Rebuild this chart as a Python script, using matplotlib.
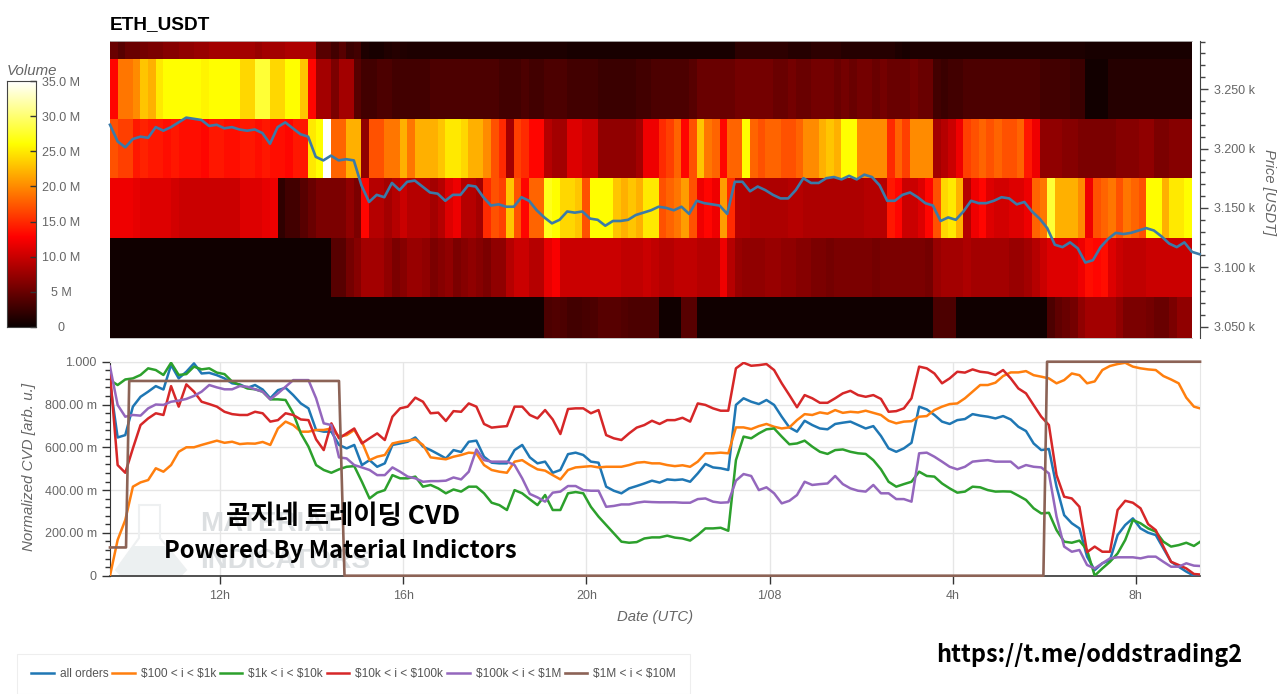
# ETH_USDT order book heatmap with normalized CVD panel
import numpy as np
import matplotlib
matplotlib.use("Agg")
import matplotlib.pyplot as plt
from matplotlib.patches import Polygon
from matplotlib.ticker import FixedLocator, MultipleLocator

W, H = 1280, 694
T0 = 9.6  # chart starts at 09:36 UTC, one sample every 10 min
GREY = "#666666"
CJK = ["Noto Sans CJK KR", "DejaVu Sans"]
plt.rcParams["font.family"] = ["Liberation Sans", "DejaVu Sans"]

TITLE = "ETH_USDT"
PRICE_EDGES = [3040.5, 3075, 3125, 3175, 3225, 3275, 3290.5]

# volume per price bin in millions, 10 min columns
VOL_3040 = [
    .3, .3, .3, .3, .3, .3, .3, .3, .3, .3,
    .3, .3, .3, .3, .3, .3, .3, .3, .3, .3,
    .3, .3, .3, .3, .3, .3, .3, .3, .3, .3,
    .3, .3, .3, .3, .3, .3, .3, .3, .3, .3,
    .3, .3, .3, .3, .3, .3, .3, .3, .3, .3,
    .3, .3, .3, .3, .3, .3, .3, 3.5, 3.8, 3.5,
    3, 3, 3.2, 3.5, 4, 4, 4, 3.8, 3.5, 3.5,
    3.5, 3.5, .3, .3, .3, 4, 4, .4, .4, .4,
    .4, .4, .4, .4, .4, .4, .4, .4, .4, .4,
    .4, .4, .4, .4, .4, .4, .4, .4, .4, .4,
    .4, .4, .4, .4, .4, .4, .4, .4, 3.5, 3.5,
    3.5, .4, .4, .4, .4, .4, .4, .4, .4, .4,
    .4, .4, .4, 3.5, 4.5, 5, 5.5, 7, 8, 8,
    8, 8, 7, 6, 6, 6, 5.5, 5, 5, 6, 7, 7,
]
VOL_3100 = [
    .3, .3, .3, .3, .3, .3, .3, .3, .3, .3,
    .3, .3, .3, .3, .3, .3, .3, .3, .3, .3,
    .3, .3, .3, .3, .3, .3, .3, .3, .3, 4,
    4, 5.5, 6.5, 8, 8, 8, 7, 6, 6.5, 7.5,
    7.5, 7, 6, 6.5, 7, 6, 6.5, 7, 6.5, 6,
    7, 7, 9, 10, 10, 9, 9, 11.5, 12.5, 10,
    10, 10, 10, 10, 10, 10, 10, 9.5, 9.5, 9.5,
    10, 9.5, 9, 9, 9.5, 9.5, 9.5, 9, 9, 9,
    12, 9, 7.5, 7, 7, 7, 7.5, 7.5, 7, 7,
    6.5, 6.5, 6, 6, 5.5, 6, 6, 6, 6, 6,
    5.5, 6, 6, 6, 6, 6, 6, 5.5, 7.5, 8,
    8, 8, 8.5, 8, 8, 8, 8, 8, 7.5, 7.5,
    8, 9, 10, 11, 11, 11, 11, 12, 13.5, 13,
    13.5, 11, 10, 9.5, 9.5, 9.5, 10, 10, 10, 10, 10, 10,
]
VOL_3150 = [
    12, 12, 12, 11.5, 11, 11, 11, 11, 10.5, 10,
    10, 10, 10, 10, 10, 10, 10, 11, 11, 11,
    11.5, 12, 2, 3, 3, 4, 5, 6, 6, 6,
    6, 7, 6, 13, 9, 9, 8, 9, 10, 9,
    9, 9, 8, 9, 11, 12, 9, 9, 8, 15,
    17, 16, 23, 17, 13, 18, 18, 27, 26, 24,
    24, 23, 17, 26, 26, 26, 23, 22, 23, 22,
    25, 25, 17, 18, 19, 21, 17, 12, 13, 12,
    21, 15, 9, 9, 8.5, 8.5, 8.5, 8.5, 8.5, 9,
    9, 8.5, 8.5, 8.5, 8.5, 8.5, 8.5, 8.5, 8.5, 9,
    9, 9, 14, 13, 10, 10, 11, 13, 17, 24,
    25, 22, 9, 12, 13, 11, 10.5, 10.5, 11, 11,
    12, 18, 19, 28, 22, 22, 22, 20, 12, 17,
    18, 19, 17, 19, 18, 17, 26, 26, 22, 25, 25, 26,
]
VOL_3200 = [
    17, 16, 16, 14, 14.5, 14, 14, 13.5, 14, 13.5,
    13.5, 13.5, 13, 14, 14, 13.5, 13.5, 14, 14, 13.5,
    14, 13.5, 13.5, 13, 14, 14, 25, 26, 35, 18,
    18, 22, 22, 7, 17, 17, 19, 19, 22, 19,
    22, 22, 22, 23, 25, 25, 24, 22, 22, 20,
    17, 15, 8, 16, 15, 13, 13, 9, 8, 8,
    11, 11, 10, 10, 7, 7, 7, 7, 7, 8,
    12, 12, 15, 16, 18, 13, 17, 23, 19, 18,
    13, 18, 18, 26, 18, 17, 18, 18, 17, 17,
    18, 20, 20, 22, 23, 22, 26, 26, 20, 20,
    20, 20, 15, 18, 16, 20, 20, 20, 8, 9,
    10, 12, 16, 17, 18, 17, 18, 17, 17, 18,
    14, 12, 7, 7, 7, 6.5, 6.5, 6, 6, 6,
    6, 6, 6.5, 6.5, 6.5, 7, 7, 6, 6, 6.5, 6.5, 6.5,
]
VOL_3250 = [
    13, 19, 19, 20, 23, 22, 25, 26, 26, 26,
    26, 26, 25.5, 26, 26, 26, 26, 24, 24, 28,
    28, 24, 24, 26, 26, 23, 13, 8, 8, 6,
    8, 8, 4, 3, 3, 3.5, 3.5, 3, 3, 3,
    3, 3, 3.5, 3.5, 3.5, 3.5, 3.5, 3.5, 3.5, 3.5,
    3.5, 3, 3, 3, 3.5, 3, 3, 3.5, 3.5, 3.5,
    3, 3, 3, 3, 2.5, 2.5, 2.5, 2.5, 2.5, 3,
    3, 3.5, 3.5, 3.5, 3.5, 3.5, 4, 5, 5, 5,
    5, 5, 5.5, 5.5, 5.5, 5.5, 5.5, 5, 5, 5.5,
    5, 5, 5.5, 5.5, 5.5, 5, 5.5, 5, 5.5, 5.5,
    5, 5.5, 5, 5, 5, 5.5, 5, 5, 3, 2.5,
    3, 3, 3.5, 3.5, 3.5, 3.5, 3.5, 3.5, 3.5, 3.5,
    3.5, 3.5, 3, 3, 3, 3, 2.5, 2.5, .5, .5,
    .5, 1.5, 1.5, 1.5, 1.5, 1.5, 1.5, 1.5, 1.5, 1.5, 1.5, 1.5,
]
VOL_3280 = [
    5, 4, 5, 5, 5.5, 6, 6, 6.5, 6.5, 7,
    7, 7.5, 7.5, 8, 8, 8, 8, 8, 8, 7.5,
    8, 8, 8, 8.5, 8.5, 8.5, 8.5, 4, 4, 3,
    4, 2.5, 3, 1, .8, .8, 1.2, 1.5, 1.2, 1,
    1, 1, 1, 1, 1, 1, 1, 1, 1, 1,
    1, 1, 1, 1, 1, 1, 1, 1, 1, 1,
    .8, .8, .8, .8, .8, .8, .8, .8, .8, .8,
    .8, .8, .8, .8, .8, .8, .8, .8, .8, .8,
    .8, .8, 1.8, 1.8, 1.8, 1.8, 1.8, 1.8, 1.8, 1.5,
    1.5, 1.5, 1.8, 1.8, 1.8, 1.8, 1.5, 1.5, 1.5, 1.5,
    1.5, 1.5, 1.5, 1, .8, 1, 1, 1, 1, 1,
    1, 1, 1, 1, 1, 1, 1, 1, 1, 1,
    1, 1, 1, 1, 1, 1, 1, 1, .8, .8,
    .8, .8, .8, .8, .8, .8, .8, .8, .8, .8, .8, .8,
]

PRICE = [
    3220, 3206, 3201, 3208, 3210, 3209, 3218, 3215, 3218, 3222,
    3226, 3225, 3224, 3219, 3220, 3217, 3218, 3216, 3215, 3216,
    3213, 3204, 3218, 3222, 3217, 3212, 3210, 3193, 3190, 3194,
    3190, 3191, 3190, 3169, 3155, 3161, 3159, 3171, 3165, 3172,
    3173, 3168, 3163, 3162, 3156, 3161, 3161, 3169, 3168, 3159,
    3152, 3153, 3151, 3151, 3159, 3156, 3148, 3142, 3137, 3140,
    3147, 3146, 3147, 3141, 3140, 3135, 3139, 3139, 3140, 3144,
    3146, 3148, 3151, 3150, 3148, 3151, 3145, 3156, 3154, 3153,
    3152, 3145, 3172, 3172, 3164, 3168, 3165, 3161, 3158, 3158,
    3165, 3175, 3171, 3171, 3175, 3176, 3174, 3177, 3174, 3178,
    3176, 3169, 3156, 3156, 3161, 3163, 3159, 3154, 3152, 3139,
    3142, 3140, 3147, 3156, 3154, 3154, 3156, 3159, 3158, 3153,
    3155, 3147, 3141, 3133, 3119, 3117, 3121, 3116, 3104, 3106,
    3117, 3124, 3129, 3128, 3129, 3131, 3133, 3131, 3126, 3120,
    3117, 3121, 3113, 3111,
]

# normalized CVD in milli units, same 10 min samples
ALL_ORDERS = [
    900, 646, 657, 790, 836, 860, 886, 870, 985, 922,
    953, 992, 945, 948, 937, 922, 899, 894, 878, 891,
    870, 829, 867, 878, 844, 805, 782, 681, 673, 673,
    611, 595, 611, 517, 540, 509, 525, 611, 618, 626,
    646, 603, 587, 568, 548, 587, 578, 626, 631, 556,
    528, 525, 525, 587, 611, 553, 525, 533, 481, 494,
    568, 575, 564, 533, 528, 416, 397, 385, 408, 419,
    431, 444, 435, 450, 447, 450, 439, 478, 522, 506,
    502, 494, 798, 829, 813, 802, 821, 798, 743, 693,
    673, 724, 704, 688, 684, 709, 715, 720, 704, 688,
    699, 653, 595, 579, 595, 621, 790, 777, 751, 720,
    709, 727, 732, 755, 748, 743, 735, 746, 730, 696,
    676, 618, 587, 592, 416, 283, 245, 221, 89, 26,
    58, 73, 190, 237, 268, 221, 201, 190, 128, 65,
    42, 19, 0, 0,
]
USD_100_1K = [
    0, 167, 260, 416, 436, 447, 502, 486, 517, 579,
    600, 600, 611, 621, 631, 621, 626, 615, 618, 617,
    625, 611, 688, 720, 704, 673, 673, 681, 681, 688,
    650, 657, 681, 626, 540, 556, 564, 618, 626, 631,
    637, 611, 553, 548, 544, 556, 564, 575, 572, 517,
    494, 486, 481, 533, 540, 517, 497, 491, 470, 450,
    494, 506, 509, 512, 506, 509, 509, 509, 517, 528,
    531, 525, 525, 517, 512, 516, 509, 533, 572, 572,
    575, 572, 693, 693, 685, 699, 709, 696, 688, 693,
    727, 755, 751, 763, 757, 774, 761, 766, 763, 771,
    761, 751, 724, 712, 720, 722, 743, 746, 774, 790,
    802, 805, 829, 860, 891, 891, 902, 933, 950, 950,
    956, 937, 930, 922, 899, 914, 945, 937, 899, 908,
    961, 980, 989, 995, 977, 969, 964, 961, 933, 917,
    899, 832, 790, 780,
]
USD_1K_10K = [
    914, 891, 917, 922, 938, 969, 961, 938, 995, 938,
    942, 977, 964, 969, 949, 942, 907, 891, 875, 871,
    860, 824, 824, 821, 759, 665, 603, 517, 494, 481,
    497, 509, 512, 439, 361, 388, 400, 470, 455, 455,
    463, 416, 424, 408, 385, 403, 393, 416, 416, 385,
    341, 330, 307, 400, 385, 357, 330, 377, 307, 307,
    385, 391, 385, 322, 276, 237, 198, 159, 154, 157,
    174, 179, 179, 187, 178, 174, 164, 190, 221, 221,
    224, 210, 540, 650, 642, 665, 684, 688, 650, 614,
    618, 631, 603, 579, 569, 587, 590, 579, 572, 569,
    540, 497, 439, 416, 428, 439, 486, 466, 463, 431,
    408, 388, 393, 416, 413, 400, 393, 394, 393, 374,
    354, 315, 291, 294, 213, 159, 154, 164, 120, 0,
    34, 65, 104, 167, 260, 245, 221, 206, 159, 136,
    143, 154, 139, 163,
]
USD_10K_100K = [
    950, 517, 481, 595, 704, 735, 759, 751, 886, 790,
    894, 860, 813, 802, 790, 766, 755, 751, 751, 766,
    759, 720, 727, 759, 751, 730, 727, 637, 587, 712,
    642, 665, 688, 618, 642, 665, 634, 743, 782, 790,
    832, 813, 759, 762, 723, 769, 766, 805, 790, 709,
    692, 696, 699, 790, 790, 751, 735, 774, 730, 662,
    779, 782, 782, 759, 774, 657, 642, 634, 665, 692,
    704, 724, 709, 727, 727, 738, 720, 805, 798, 782,
    771, 771, 969, 995, 981, 984, 989, 961, 899, 844,
    787, 844, 829, 808, 808, 829, 852, 864, 844, 836,
    844, 826, 766, 769, 782, 829, 977, 969, 945, 899,
    922, 953, 949, 964, 953, 949, 938, 961, 922, 875,
    852, 797, 743, 704, 470, 369, 361, 322, 110, 136,
    112, 112, 307, 350, 341, 315, 241, 213, 136, 65,
    50, 34, 8, 5,
]
USD_100K_1M = [
    977, 798, 743, 751, 748, 782, 800, 798, 813, 818,
    826, 840, 860, 891, 880, 871, 871, 886, 883, 871,
    860, 824, 852, 883, 914, 914, 914, 829, 712, 704,
    553, 548, 517, 506, 494, 470, 470, 506, 486, 463,
    455, 439, 442, 442, 444, 459, 450, 486, 590, 540,
    533, 533, 533, 517, 455, 382, 366, 346, 388, 393,
    419, 419, 400, 397, 397, 322, 326, 333, 333, 341,
    346, 344, 343, 343, 343, 341, 341, 358, 361, 346,
    341, 343, 444, 475, 466, 400, 413, 385, 338, 350,
    377, 439, 424, 428, 431, 466, 428, 408, 397, 393,
    424, 385, 385, 358, 358, 346, 572, 575, 556, 533,
    509, 497, 509, 533, 537, 540, 533, 533, 533, 502,
    517, 509, 506, 478, 276, 136, 112, 120, 50, 34,
    58, 81, 86, 86, 86, 81, 89, 89, 65, 42,
    42, 58, 47, 45,
]
# the brown series is a plain step, only its corners are listed
USD_1M_10M_T = [9.6, 9.95, 10.02, 14.6, 14.72, 29.98, 30.06, 33.4]
USD_1M_10M = [132, 132, 910, 910, 0, 0, 1000, 1000]

SERIES = [
    ("all orders", ALL_ORDERS, "#1f77b4"),
    (r"\$100 < i < \$1k", USD_100_1K, "#ff7f0e"),
    (r"\$1k < i < \$10k", USD_1K_10K, "#2ca02c"),
    (r"\$10k < i < \$100k", USD_10K_100K, "#d62728"),
    (r"\$100k < i < \$1M", USD_100K_1M, "#9467bd"),
]
BROWN_LABEL = r"\$1M < i < \$10M"

TIME_TICKS = [12, 16, 20, 24, 28, 32]
TIME_LABELS = ["12h", "16h", "20h", "1/08", "4h", "8h"]
CVD_TICKS = [0, 200, 400, 600, 800, 1000]
CVD_LABELS = ["0", "200.00 m", "400.00 m", "600.00 m", "800.00 m", "1.000"]
PRICE_TICKS = [3050, 3100, 3150, 3200, 3250]
PRICE_LABELS = ["3.050 k", "3.100 k", "3.150 k", "3.200 k", "3.250 k"]
VOL_TICKS = [0, 5, 10, 15, 20, 25, 30, 35]
VOL_LABELS = ["0", "5 M", "10.0 M", "15.0 M", "20.0 M", "25.0 M", "30.0 M", "35.0 M"]


def box(left, top, right, bottom):
    # pixel box from the top left corner to figure fractions
    return [left / W, 1 - bottom / H, (right - left) / W, (bottom - top) / H]


def fx(px):
    return px / W


def fy(py):
    return 1 - py / H


fig = plt.figure(figsize=(W / 100, H / 100), dpi=100, facecolor="white")

# heatmap panel
ax = fig.add_axes(box(110, 41, 1192, 338))
volume = np.array([VOL_3040, VOL_3100, VOL_3150, VOL_3200, VOL_3250, VOL_3280])
edges_t = T0 + np.arange(volume.shape[1] + 1) / 6
ax.pcolormesh(edges_t, PRICE_EDGES, volume, cmap="hot", vmin=0, vmax=35, shading="flat")
price_t = T0 + np.arange(len(PRICE)) / 6
ax.plot(price_t, PRICE, color="#3b7aa8", lw=1.9, clip_on=False, zorder=5)
ax.set_xlim(edges_t[0], edges_t[-1])
ax.set_ylim(PRICE_EDGES[0], PRICE_EDGES[-1])
ax.set_xticks([])
ax.yaxis.tick_right()
ax.yaxis.set_label_position("right")
ax.yaxis.set_major_locator(FixedLocator(PRICE_TICKS))
ax.set_yticklabels(PRICE_LABELS)
ax.yaxis.set_minor_locator(MultipleLocator(10))
ax.tick_params(axis="y", which="major", length=6, width=1, color="#444444",
               labelcolor=GREY, labelsize=9, pad=4)
ax.tick_params(axis="y", which="minor", length=3.5, width=1, color="#444444")
ax.spines["left"].set_visible(False)
for side in ["top", "bottom"]:
    ax.spines[side].set_color("#bbbbbb")
    ax.spines[side].set_linewidth(0.6)
ax.spines["right"].set_position(("outward", 5.8))
ax.spines["right"].set_color("#444444")
fig.text(fx(110), fy(25), TITLE, fontsize=13.7, fontweight="bold", color="black", va="center")
fig.text(fx(1269), fy(192), "Price [USDT]", rotation=270, style="italic", fontsize=10.6,
         color=GREY, ha="center", va="center")

# colour bar
cax = fig.add_axes(box(7, 81, 36, 327))
gradient = np.linspace(0, 35, 256).reshape(-1, 1)
cax.imshow(gradient, cmap="hot", vmin=0, vmax=35, origin="lower", aspect="auto",
           extent=[0, 1, 0, 35])
cax.set_xticks([])
cax.yaxis.tick_right()
cax.set_yticks(VOL_TICKS)
cax.set_yticklabels(VOL_LABELS)
cax.tick_params(axis="y", direction="in", length=4, width=1, color="#333333",
                labelcolor=GREY, labelsize=9, pad=18)
for lab in cax.get_yticklabels():
    lab.set_ha("center")
for side in cax.spines.values():
    side.set_color("#444444")
    side.set_linewidth(0.8)
fig.text(fx(7), fy(71), "Volume", style="italic", fontsize=10.8, color=GREY, va="center")

# CVD panel
bx = fig.add_axes(box(110, 361.7, 1200, 575.7))
bx.patch.set_alpha(0)

# watermark sits behind the lines
wm = "#dcdfe1"
bx.text(fx(200), fy(524), "MATERIAL", transform=fig.transFigure, fontsize=20, fontweight="bold",
        color=wm, va="center", zorder=0.6, clip_on=False)
bx.text(fx(200), fy(561), "INDICATORS", transform=fig.transFigure, fontsize=20, fontweight="bold",
        color=wm, va="center", zorder=0.6, clip_on=False)
flask_line = [(139, 505), (160, 505), (160, 538), (186, 570), (180, 576), (122, 576), (116, 570), (139, 538)]
flask_fill = [(133, 546), (165, 546), (186, 570), (180, 575), (122, 575), (116, 570)]
bx.add_patch(Polygon([(fx(a), fy(b)) for a, b in flask_line], closed=True, fill=False, ec="#eef0f1",
                     lw=1.5, transform=fig.transFigure, zorder=0.6, clip_on=False))
bx.add_patch(Polygon([(fx(a), fy(b)) for a, b in flask_fill], closed=True, fc="#ecf0f1", ec="none",
                     transform=fig.transFigure, zorder=0.6, clip_on=False))

cvd_t = T0 + np.arange(len(ALL_ORDERS)) / 6
handles = []
for label, values, color in SERIES:
    line, = bx.plot(cvd_t, values, color=color, lw=1.8, label=label, solid_joinstyle="round", zorder=3)
    handles.append(line)
brown, = bx.plot(USD_1M_10M_T, USD_1M_10M, color="#8c6356", lw=1.9, label=BROWN_LABEL, clip_on=False, zorder=4)
handles.append(brown)

bx.set_xlim(T0, T0 + 1090 / 45.8)
bx.set_ylim(0, 1000)
bx.set_xticks(TIME_TICKS)
bx.set_xticklabels(TIME_LABELS)
bx.set_yticks(CVD_TICKS)
bx.set_yticklabels(CVD_LABELS)
bx.yaxis.set_minor_locator(MultipleLocator(40))
bx.grid(True, which="major", color="#e6e6e6", lw=1, zorder=0.5)
bx.set_axisbelow(True)
bx.tick_params(axis="both", which="major", length=6, width=1, color="#333333",
               labelcolor=GREY, labelsize=9)
bx.tick_params(axis="y", which="minor", length=3.5, width=1, color="#333333")
bx.tick_params(axis="x", pad=4)
for side in ["top", "right"]:
    bx.spines[side].set_color("#e6e6e6")
bx.spines["left"].set_color("#333333")
bx.spines["bottom"].set_color("#333333")
bx.spines["bottom"].set_linewidth(1.2)
fig.text(fx(29), fy(467), "Normalized CVD [arb. u.]", rotation=90, style="italic", fontsize=10.9,
         color=GREY, ha="center", va="center")
fig.text(fx(655), fy(617), "Date (UTC)", style="italic", fontsize=10.7, color=GREY, ha="center", va="center")

# legend box across the bottom
leg = fig.legend(handles=handles, loc="center left", bbox_to_anchor=(fx(11), fy(674)), ncol=6,
                 fontsize=8.6, handlelength=1.9, handletextpad=0.5, columnspacing=0.3,
                 frameon=True, fancybox=False, edgecolor="#eeeeee", borderpad=1.2,
                 labelcolor="#555555", framealpha=1)
leg.get_frame().set_linewidth(0.8)

# overlay captions
fig.text(fx(343), fy(517), "곰지네 트레이딩 CVD", family=CJK, fontsize=19, fontweight="bold",
         color="black", ha="center", va="center", zorder=10)
fig.text(fx(340), fy(551), "Powered By Material Indictors", family=CJK, fontsize=17.1, fontweight="bold",
         color="black", ha="center", va="center", zorder=10)
fig.text(fx(1089), fy(655), "https://t.me/oddstrading2", family=CJK, fontsize=16.9, fontweight="bold",
         color="black", ha="center", va="center", zorder=10)

fig.savefig("out.png", dpi=100)
